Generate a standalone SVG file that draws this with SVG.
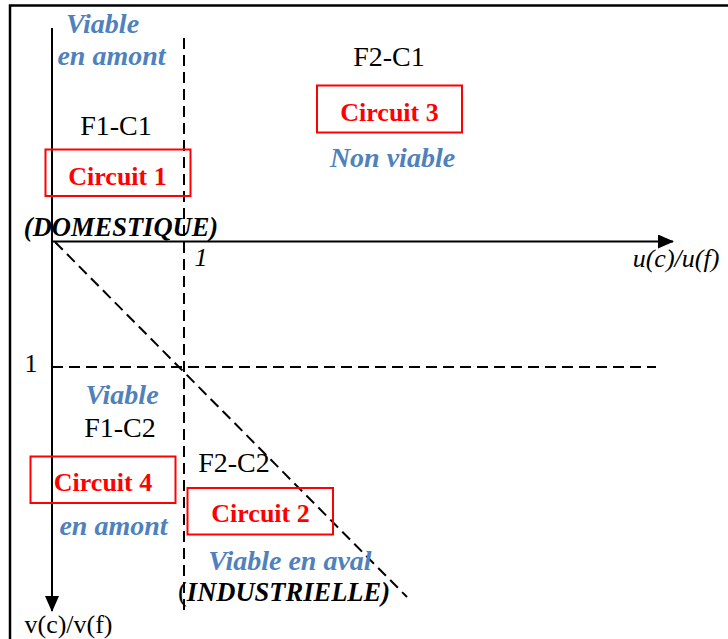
<svg xmlns="http://www.w3.org/2000/svg" width="728" height="639" viewBox="0 0 728 639" font-family="'Liberation Serif', 'Times New Roman', 'DejaVu Serif', serif">
<defs>
<marker id="arr" markerWidth="16" markerHeight="14" refX="15" refY="7" orient="auto" markerUnits="userSpaceOnUse">
<path d="M0,0 L16,7 L0,14 Z" fill="#000"/>
</marker>
<style>
text{font-family:'Liberation Serif','Times New Roman','DejaVu Serif',serif}
.lbl{font-size:28px;fill:#000;text-anchor:middle}
.blue{font-size:28px;fill:#4F81BD;font-weight:bold;font-style:italic;text-anchor:middle}
.circ{font-size:26px;fill:#FF0000;font-weight:bold;text-anchor:middle}
.bi{font-size:26.5px;fill:#000;font-weight:bold;font-style:italic;text-anchor:middle}
.ax{font-size:26px;fill:#000;text-anchor:middle}
.box{fill:none;stroke:#FF0000;stroke-width:2}
.dash{fill:none;stroke:#000;stroke-width:2;stroke-dasharray:11,6}
.axis{fill:none;stroke:#000;stroke-width:2}
</style>
</defs>
<rect width="728" height="639" fill="#fff"/>
<g id="frame">
<path d="M10,639 L10,5.5 L728,5.5" fill="none" stroke="#000" stroke-width="2.5"/>
</g>
<g id="connectors">
<line class="axis" x1="52" y1="28" x2="52" y2="611" marker-end="url(#arr)"/>
<line class="axis" x1="52" y1="241.5" x2="673" y2="241.5" marker-end="url(#arr)"/>
<line class="dash" x1="184" y1="38" x2="184" y2="612"/>
<line class="dash" x1="52" y1="367" x2="656" y2="367"/>
<line class="dash" x1="55" y1="242" x2="407" y2="597"/>
</g>
<g id="region-f1c1">
<text class="blue" x="102.5" y="33">Viable</text>
<text class="blue" x="111.5" y="65">en amont</text>
<text class="lbl" x="116" y="135">F1-C1</text>
</g>
<g id="circuit1">
<rect class="box" x="45.5" y="149.5" width="145" height="46.5"/>
<text class="circ" x="117.5" y="185">Circuit 1</text>
</g>
<g id="domestique">
<text class="bi" x="121" y="236">(DOMESTIQUE)</text>
</g>
<g id="region-f2c1">
<text class="lbl" x="389" y="66">F2-C1</text>
<text class="blue" x="392.5" y="167">Non viable</text>
</g>
<g id="circuit3">
<rect class="box" x="317" y="85.5" width="145" height="47"/>
<text class="circ" x="389.5" y="121">Circuit 3</text>
</g>
<g id="axis-labels">
<text class="ax" x="201" y="266" font-style="italic">1</text>
<text class="ax" x="676" y="267" font-style="italic">u(c)/u(f)</text>
<text class="ax" x="31" y="372">1</text>
<text class="ax" x="68.5" y="633">v(c)/v(f)</text>
</g>
<g id="region-f1c2">
<text class="blue" x="122" y="404">Viable</text>
<text class="lbl" x="120" y="437">F1-C2</text>
<text class="blue" x="113.5" y="535">en amont</text>
</g>
<g id="circuit4">
<rect class="box" x="30.5" y="456.5" width="145" height="46.5"/>
<text class="circ" x="103" y="491">Circuit 4</text>
</g>
<g id="region-f2c2">
<text class="lbl" x="234" y="472">F2-C2</text>
<text class="blue" x="290" y="570">Viable en aval</text>
</g>
<g id="circuit2">
<rect class="box" x="187.5" y="488" width="145.5" height="46.5"/>
<text class="circ" x="260.5" y="522">Circuit 2</text>
</g>
<g id="industrielle">
<text class="bi" x="284" y="601"><tspan font-weight="normal" font-style="normal">(</tspan>INDUSTRIELLE)</text>
</g>
</svg>
